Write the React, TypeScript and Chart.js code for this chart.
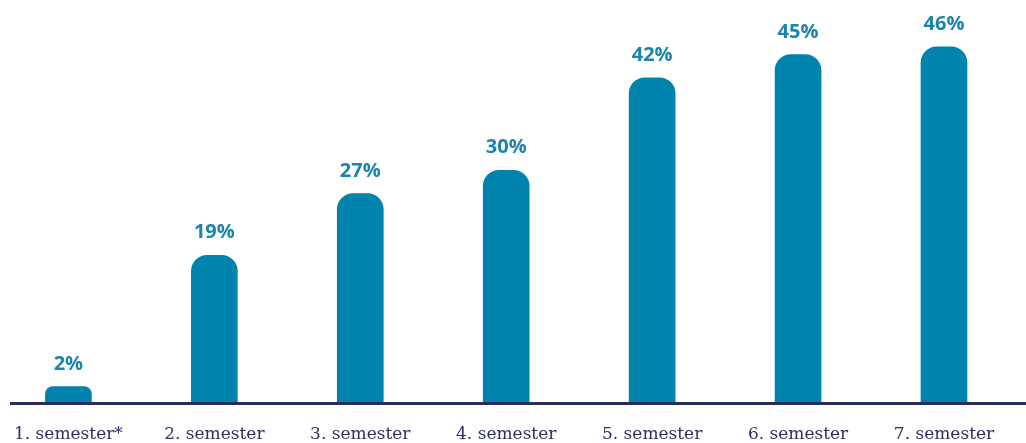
import React, { useEffect, useRef } from "react";
import { Chart, registerables } from "chart.js";

Chart.register(...registerables);

const categories = [
  "1. semester*",
  "2. semester",
  "3. semester",
  "4. semester",
  "5. semester",
  "6. semester",
  "7. semester",
];
const values = [2, 19, 27, 30, 42, 45, 46];
const valueLabels = ["2%", "19%", "27%", "30%", "42%", "45%", "46%"];

const BAR_COLOR = "#0083ad";
const LABEL_COLOR = "#1b84ad";
const AXIS_COLOR = "#2b2c5e";

const decorPlugin = {
  id: "decor",
  afterDatasetsDraw(chart: any) {
    const { ctx, chartArea } = chart;
    const meta = chart.getDatasetMeta(0);
    ctx.save();
    ctx.strokeStyle = AXIS_COLOR;
    ctx.lineWidth = 3;
    ctx.beginPath();
    ctx.moveTo(10, chartArea.bottom + 1.5);
    ctx.lineTo(chart.width, chartArea.bottom + 1.5);
    ctx.stroke();
    ctx.fillStyle = LABEL_COLOR;
    ctx.font = "bold 20px 'Open Sans', sans-serif";
    ctx.textAlign = "center";
    ctx.textBaseline = "alphabetic";
    meta.data.forEach((bar: any, i: number) => {
      ctx.fillText(valueLabels[i], bar.x, bar.y - 17);
    });
    ctx.restore();
  },
};

export default function App() {
  const ref = useRef<HTMLCanvasElement | null>(null);
  useEffect(() => {
    if (!ref.current) return;
    const chart = new Chart(ref.current, {
      type: "bar",
      data: {
        labels: categories,
        datasets: [
          {
            data: values,
            backgroundColor: BAR_COLOR,
            borderRadius: 16,
            borderSkipped: "start",
            barThickness: 46,
            clip: false as any,
          },
        ],
      },
      options: {
        animation: false,
        responsive: false,
        layout: { padding: { left: 59, right: 82, top: 16, bottom: 0 } },
        plugins: { legend: { display: false }, tooltip: { enabled: false } },
        scales: {
          x: {
            offset: false,
            grid: { display: false },
            border: { display: false },
            afterFit: (scale: any) => {
              scale.height = 41;
            },
            ticks: {
              padding: 14,
              maxRotation: 0,
              autoSkip: false,
              color: "#2d2f5f",
              font: { family: "'DejaVu Serif', serif", size: 17 },
            },
          },
          y: { display: false, min: 0, max: 50 },
        },
      },
      plugins: [decorPlugin],
    });
    return () => chart.destroy();
  }, []);
  return (
    <div style={{ position: "absolute", left: 0, top: 0, width: 1026, height: 443 }}>
      <canvas ref={ref} width={1026} height={443} style={{ display: "block" }} />
    </div>
  );
}
